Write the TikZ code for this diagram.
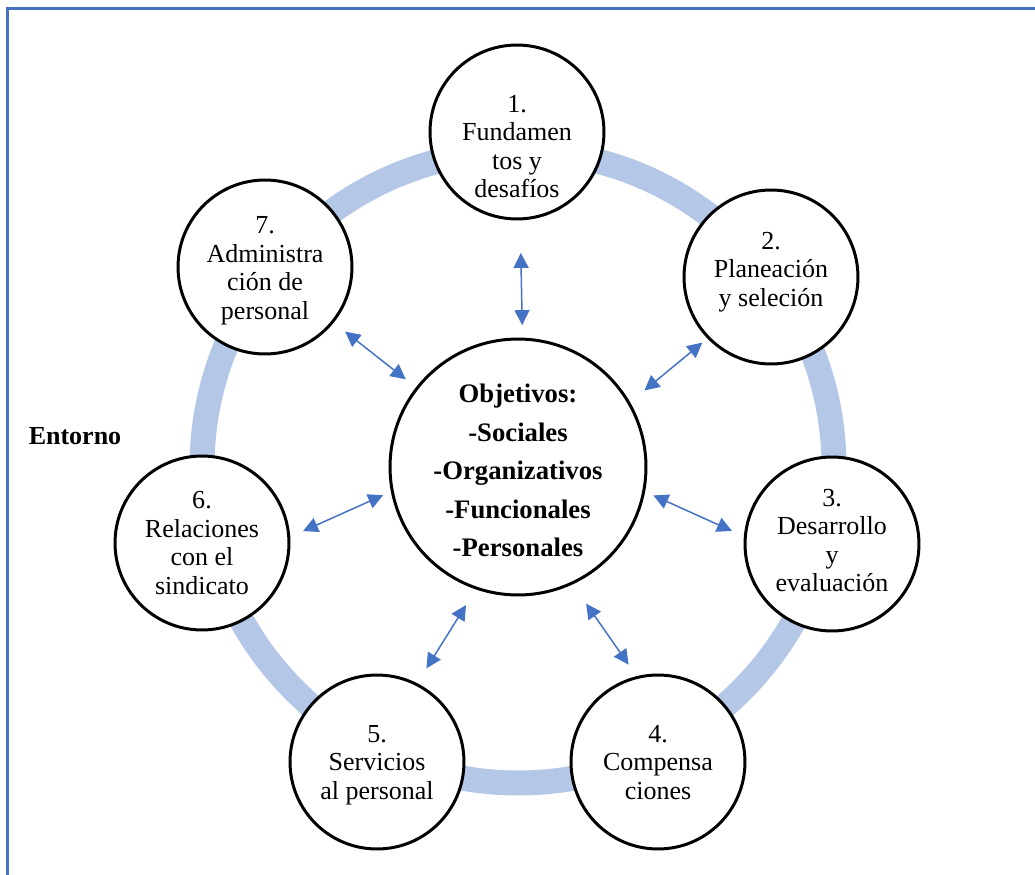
\documentclass[tikz,border=0pt]{standalone}
\usepackage{fontspec}
\setmainfont{Liberation Serif}
\usetikzlibrary{arrows.meta}
\definecolor{frameblue}{HTML}{4472C4}
\definecolor{ringblue}{HTML}{B4C7E7}
% stacked lines, lowered by #1 without changing the node size
\newcommand\stagetext[2]{\raisebox{#1}[0pt][0pt]{\begin{tabular}{@{}c@{}}#2\end{tabular}}}
\begin{document}
\begin{tikzpicture}[x=0.02cm,y=-0.02cm,
  stage/.style={circle,draw=black,line width=1.7pt,fill=white,minimum size=3.48cm,
    inner sep=0pt,font=\fontsize{14.8}{16.2}\selectfont},
  core/.style={circle,draw=black,line width=1.7pt,fill=white,minimum size=5.12cm,
    inner sep=0pt,font=\fontsize{15.2}{21.9}\selectfont\bfseries},
  biarrow/.style={draw=frameblue,line width=0.85pt,
    {Triangle[length=0.3cm,width=0.3cm]}-{Triangle[length=0.3cm,width=0.3cm]},
    fill=frameblue}]
\useasboundingbox (0,0) rectangle (1035,875);
% page frame (left and top edges)
\draw[frameblue,line width=1.5pt] (7.3,875) -- (7.3,8.3) -- (1035,8.3);
% ring joining the stages
\draw[ringblue,line width=0.5cm] (518,467) circle (316);
% central objectives
\node[core] (c) at (518,467) {\stagetext{-0.23cm}{Objetivos:\\-Sociales\\-Organizativos\\-Funcionales\\-Personales}};
% the seven stages
\node[stage] (n1) at (517,132) {\stagetext{-0.47cm}{1.\\Fundamen\\tos y\\desafíos}};
\node[stage] (n2) at (771,277) {\stagetext{-0.03cm}{2.\\Planeación\\y seleción}};
\node[stage] (n3) at (832,544) {\stagetext{-0.11cm}{3.\\Desarrollo\\y\\evaluación}};
\node[stage] (n4) at (658,762) {\stagetext{-0.19cm}{4.\\Compensa\\ciones}};
\node[stage] (n5) at (377,762) {\stagetext{-0.19cm}{5.\\Servicios\\al personal}};
\node[stage] (n6) at (202,543) {\stagetext{-0.18cm}{6.\\Relaciones\\con el\\sindicato}};
\node[stage] (n7) at (265,267) {\stagetext{-0.20cm}{7.\\Administra\\ción de\\personal}};
\node[font=\fontsize{14.8}{16.2}\selectfont\bfseries] (env) at (75,436) {Entorno};
% two-way links between the objectives and each stage
\draw[biarrow,shorten <=0.25cm,shorten >=0.65cm] (c.88.7) -- (n1.272.6);
\draw[biarrow,shorten <=0.37cm,shorten >=0.13cm] (c.30.4) -- (n2.224.5);
\draw[biarrow,shorten <=0.18cm,shorten >=0.26cm] (c.-11.8) -- (n3.175.6);
\draw[biarrow,shorten <=0.47cm,shorten >=0.28cm] (c.-65.1) -- (n4.104.5);
\draw[biarrow,shorten <=0.37cm,shorten >=0.35cm] (c.-109.0) -- (n5.63.4);
\draw[biarrow,shorten <=0.17cm,shorten >=0.28cm] (c.191.0) -- (n6.4.8);
\draw[biarrow,shorten <=0.26cm,shorten >=0.29cm] (c.142.5) -- (n7.-39.2);
\end{tikzpicture}
\end{document}
